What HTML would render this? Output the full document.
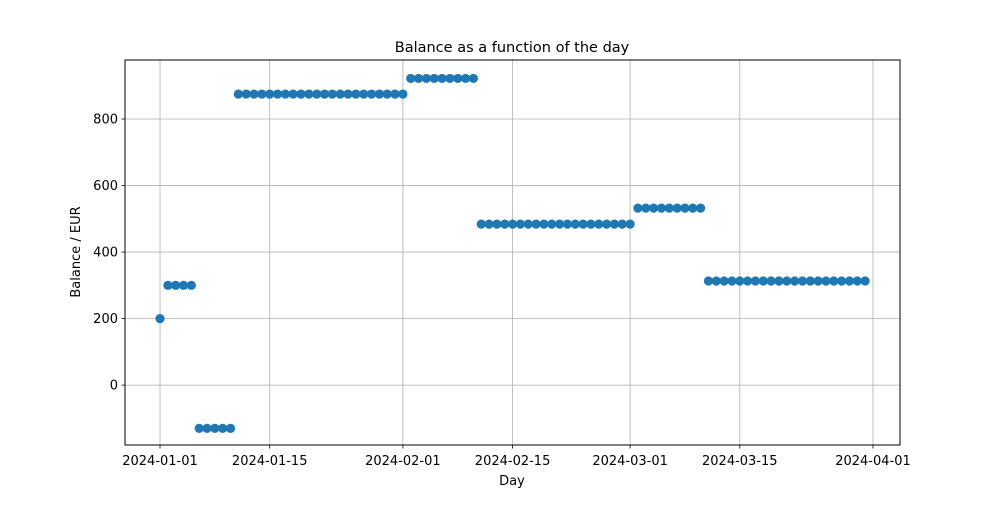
<!DOCTYPE html>
<html><head><meta charset="utf-8"><style>
body{margin:0;background:#fff;font-family:"Liberation Sans","DejaVu Sans",sans-serif}
</style></head><body>
<svg id="chart" width="1000" height="500" xmlns="http://www.w3.org/2000/svg" font-family="'DejaVu Sans','Liberation Sans',sans-serif">
<rect width="1000" height="500" fill="#fff"/>
<g id="grid"></g>
<g id="points"></g>
<rect x="125" y="60" width="775" height="385" fill="none" stroke="#000" stroke-width="1"/>
<g id="ticks"></g>
<text x="512" y="52" font-size="14.5" text-anchor="middle">Balance as a function of the day</text>
<text x="512" y="485" font-size="13" text-anchor="middle">Day</text>
<text x="80" y="252" font-size="13" text-anchor="middle" transform="rotate(-90 80 252)">Balance / EUR</text>
</svg>
<script>
const dayOffsets = [0,1,2,3,4,5,6,7,8,9,10,11,12,13,14,15,16,17,18,19,20,21,22,23,24,25,26,27,28,29,30,31,32,33,34,35,36,37,38,39,40,41,42,43,44,45,46,47,48,49,50,51,52,53,54,55,56,57,58,59,60,61,62,63,64,65,66,67,68,69,70,71,72,73,74,75,76,77,78,79,80,81,82,83,84,85,86,87,88,89,90];
const balances = [200,300,300,300,300,-130,-130,-130,-130,-130,875,875,875,875,875,875,875,875,875,875,875,875,875,875,875,875,875,875,875,875,875,875,922,922,922,922,922,922,922,922,922,484,484,484,484,484,484,484,484,484,484,484,484,484,484,484,484,484,484,484,484,532,532,532,532,532,532,532,532,532,313,313,313,313,313,313,313,313,313,313,313,313,313,313,313,313,313,313,313,313,313];
const xTickDays = [0,14,31,45,60,74,91];
const xTickLabels = ["2024-01-01","2024-01-15","2024-02-01","2024-02-15","2024-03-01","2024-03-15","2024-04-01"];
const yTicks = [0,200,400,600,800];

const NS="http://www.w3.org/2000/svg";
const L=125,R=900,T=60,B=445;
const xMin=-4.47,xMax=94.45,yMin=-180,yMax=977.4;
const xs=d=>L+(d-xMin)/(xMax-xMin)*(R-L);
const ys=v=>B-(v-yMin)/(yMax-yMin)*(B-T);
function mk(tag,attrs,parent){const e=document.createElementNS(NS,tag);for(const k in attrs)e.setAttribute(k,attrs[k]);parent.appendChild(e);return e;}
const grid=document.getElementById('grid'),ticks=document.getElementById('ticks'),pts=document.getElementById('points');
xTickDays.forEach((d,i)=>{
  const x=xs(d);
  const g=mk('line',{x1:x,x2:x,y1:T,y2:B,stroke:'#b0b0b0','stroke-width':0.8},grid);
  
  
  const t=mk('line',{x1:x,x2:x,y1:B,y2:B+3.5,stroke:'#000','stroke-width':0.8},ticks);
  
  
  const l=mk('text',{x:x,y:B+20,'font-size':13,'text-anchor':'middle'},ticks);
  l.textContent=xTickLabels[i];
  
  
});
yTicks.forEach(v=>{
  const y=ys(v);
  const g=mk('line',{x1:L,x2:R,y1:y,y2:y,stroke:'#b0b0b0','stroke-width':0.8},grid);
  
  
  const t=mk('line',{x1:L-3.5,x2:L,y1:y,y2:y,stroke:'#000','stroke-width':0.8},ticks);
  
  
  const l=mk('text',{x:L-7,y:y+4.5,'font-size':13,'text-anchor':'end'},ticks);
  l.textContent=String(v);
  
  
});
dayOffsets.forEach((d,i)=>{
  const c=mk('circle',{cx:xs(d),cy:ys(balances[i]),r:4.6,fill:'#1f77b4'},pts);
  
  
});
</script>
</body></html>
